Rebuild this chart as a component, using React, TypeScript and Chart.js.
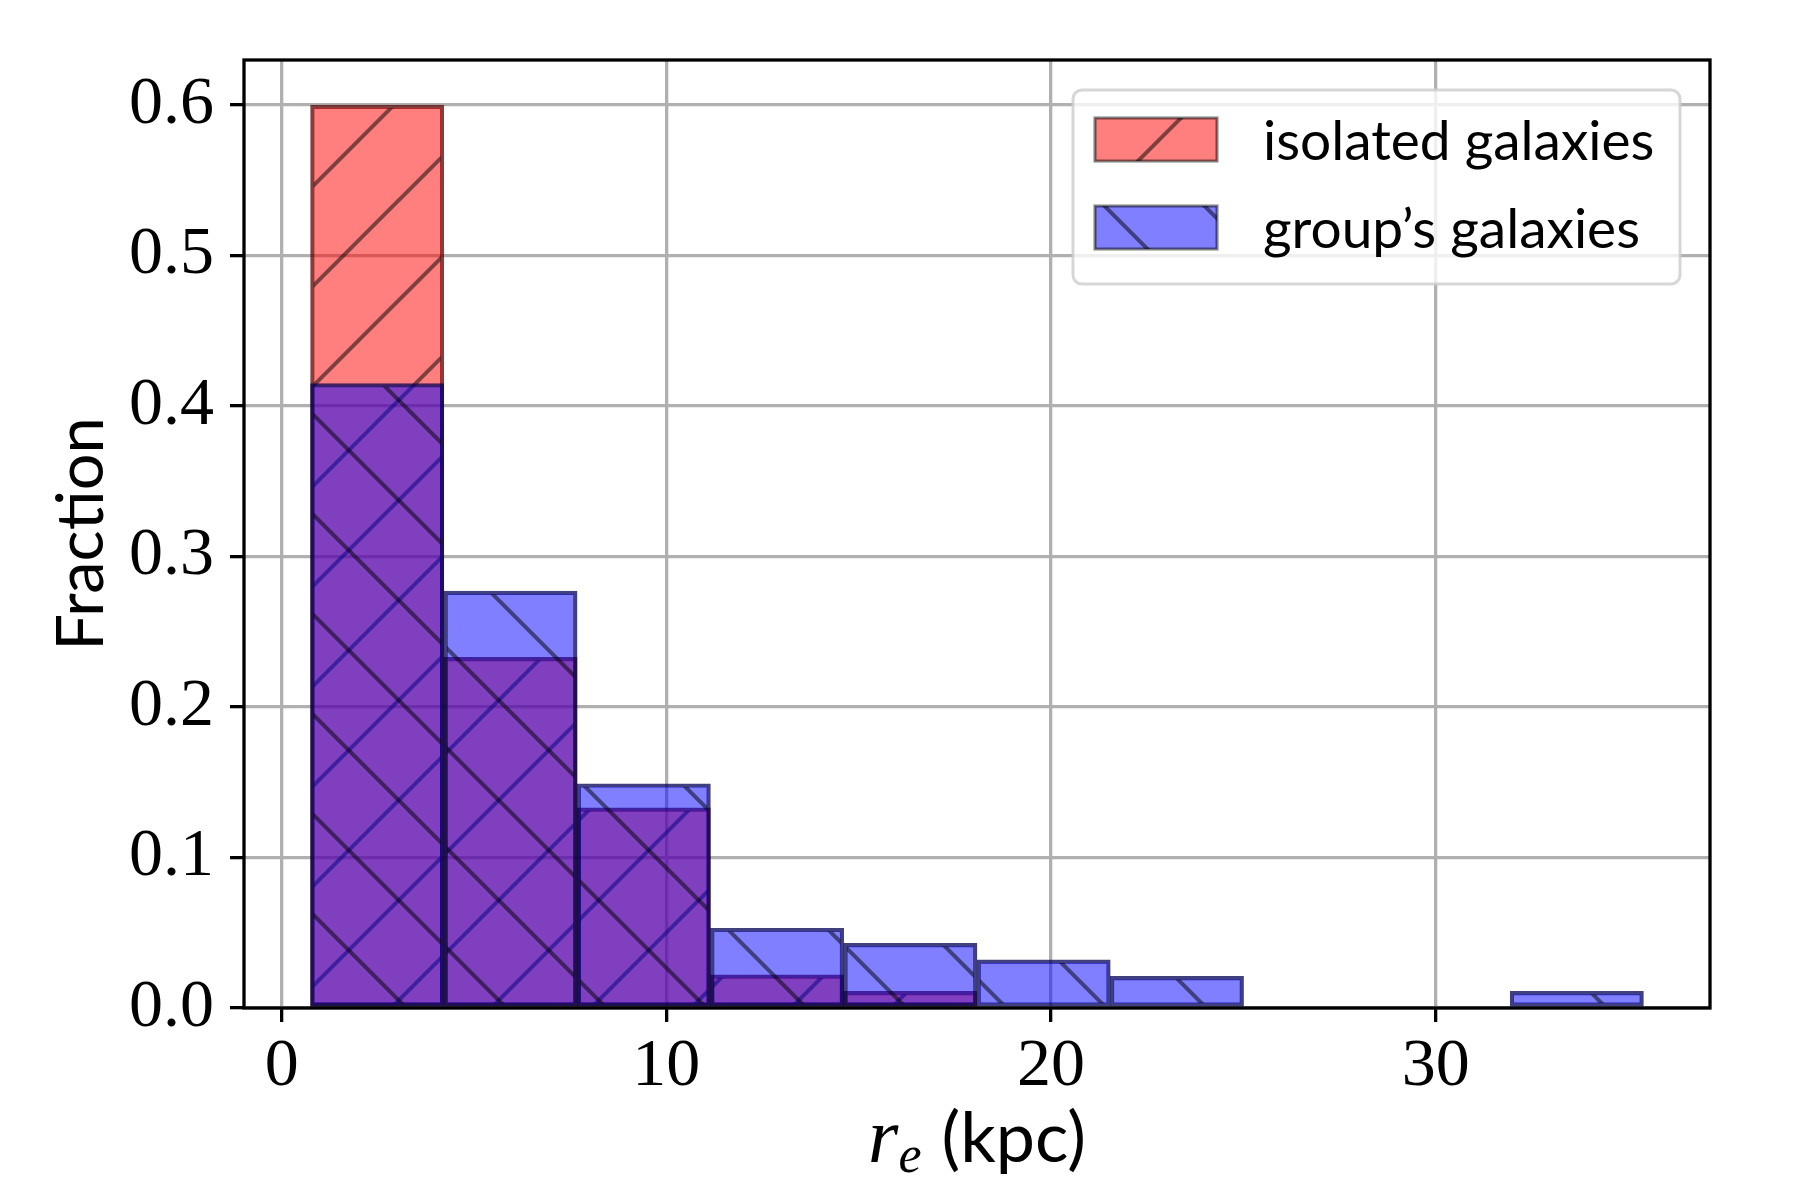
import { useEffect, useRef } from "react";
import { Chart, registerables } from "chart.js";

Chart.register(...registerables);

// histogram bins (kpc) and normalised counts
const binEdges = [0.75, 4.215, 7.68, 11.145, 14.61, 18.075, 21.54, 25.005, 28.47, 31.935, 35.4];
const isolatedFraction = [0.6, 0.233, 0.133, 0.022, 0.011, 0, 0, 0, 0, 0];
const groupFraction = [0.415, 0.277, 0.149, 0.053, 0.043, 0.032, 0.021, 0, 0, 0.011];
const seriesLabels = ["isolated galaxies", "group\u2019s galaxies"];
const xTicks = [0, 10, 20, 30];
const yTicks = [0, 0.1, 0.2, 0.3, 0.4, 0.5, 0.6];

const serif = "'Liberation Serif', 'DejaVu Serif', serif";
const sans = "Lato, 'Open Sans', sans-serif";

function makeHatch(fill: string, dir: "/" | "\\"): CanvasPattern | string {
  const tile = document.createElement("canvas");
  tile.width = 100;
  tile.height = 100;
  const c = tile.getContext("2d");
  if (!c) return fill;
  c.fillStyle = fill;
  c.fillRect(0, 0, 100, 100);
  c.strokeStyle = "rgba(0,0,0,0.5)";
  c.lineWidth = 4;
  c.beginPath();
  if (dir === "/") {
    for (const k of [-1, 99, 199]) {
      c.moveTo(k + 6, -6);
      c.lineTo(k - 106, 106);
    }
  } else {
    for (const k of [-98.5, 1.5, 101.5]) {
      c.moveTo(-6, k - 6);
      c.lineTo(106, k + 106);
    }
  }
  c.stroke();
  const ctx = document.createElement("canvas").getContext("2d");
  return ctx?.createPattern(tile, "repeat") ?? fill;
}

export default function App() {
  const chartRef = useRef<HTMLCanvasElement>(null);
  const chartInstance = useRef<Chart | null>(null);

  useEffect(() => {
    document.body.style.margin = "0";
    if (!chartRef.current) return;
    const ctx = chartRef.current.getContext("2d");
    if (!ctx) return;

    const redHatch = makeHatch("rgba(255,0,0,0.5)", "/");
    const blueHatch = makeHatch("rgba(0,0,255,0.5)", "\\");
    const centers = binEdges.slice(0, -1).map((e, i) => (e + binEdges[i + 1]) / 2);

    const framePlugin = {
      id: "frame",
      afterDraw(chart: Chart) {
        const c = chart.ctx;
        const a = chart.chartArea;
        c.save();

        // spines
        c.strokeStyle = "#000";
        c.lineWidth = 3.3;
        c.strokeRect(a.left, a.top, a.right - a.left, a.bottom - a.top);

        // y title
        c.fillStyle = "#000";
        c.save();
        c.translate(103, (a.top + a.bottom) / 2);
        c.rotate(-Math.PI / 2);
        c.font = `65px ${sans}`;
        c.textAlign = "center";
        c.textBaseline = "alphabetic";
        c.fillText("Fraction", 0, 0);
        c.restore();

        // x title: r_e (kpc)
        c.textBaseline = "alphabetic";
        c.textAlign = "left";
        const rFont = `italic 78px ${serif}`;
        const eFont = `italic 52px ${serif}`;
        const kFont = `70px ${sans}`;
        c.font = rFont;
        const wr = c.measureText("r").width;
        c.font = eFont;
        const we = c.measureText("e").width;
        c.font = kFont;
        const wk = c.measureText("(kpc)").width;
        const gap = 20;
        const total = wr + we + gap + wk;
        let x = (a.left + a.right) / 2 - total / 2;
        const base = 1162;
        c.font = rFont;
        c.fillText("r", x, base);
        x += wr;
        c.font = eFont;
        c.fillText("e", x, base + 10);
        x += we + gap;
        c.font = kFont;
        c.fillText("(kpc)", x, base);

        // legend
        const lw = 607;
        const lh = 194;
        const lx = a.right - 30 - lw;
        const ly = a.top + 30;
        c.beginPath();
        c.roundRect(lx, ly, lw, lh, 9);
        c.fillStyle = "rgba(255,255,255,0.8)";
        c.fill();
        c.strokeStyle = "rgba(204,204,204,0.8)";
        c.lineWidth = 3;
        c.stroke();

        const hatches = [redHatch, blueHatch];
        seriesLabels.forEach((label, i) => {
          const py = ly + 28 + i * 88;
          c.fillStyle = hatches[i];
          c.fillRect(lx + 22, py, 122, 43);
          c.strokeStyle = "rgba(0,0,0,0.5)";
          c.lineWidth = 3;
          c.strokeRect(lx + 22, py, 122, 43);
          c.fillStyle = "#000";
          c.font = `55px ${sans}`;
          c.textAlign = "left";
          c.textBaseline = "alphabetic";
          c.fillText(label, lx + 190, py + 42);
        });

        c.restore();
      },
    };

    if (chartInstance.current) {
      chartInstance.current.destroy();
    }

    chartInstance.current = new Chart(ctx, {
      type: "bar",
      data: {
        datasets: [
          {
            label: seriesLabels[0],
            data: centers.map((x, i) => ({ x, y: isolatedFraction[i] })),
            backgroundColor: redHatch,
            borderColor: "rgba(85,0,0,0.75)",
            borderWidth: 3.5,
            borderSkipped: false,
            grouped: false,
            barPercentage: 1,
            categoryPercentage: 1,
            order: 2,
          },
          {
            label: seriesLabels[1],
            data: centers.map((x, i) => ({ x, y: groupFraction[i] })),
            backgroundColor: blueHatch,
            borderColor: "rgba(0,0,85,0.75)",
            borderWidth: 3.5,
            borderSkipped: false,
            grouped: false,
            barPercentage: 1,
            categoryPercentage: 1,
            order: 1,
          },
        ],
      },
      options: {
        responsive: false,
        animation: false,
        devicePixelRatio: 1,
        layout: { padding: { top: 60, right: 90, left: 0, bottom: 0 } },
        plugins: {
          legend: { display: false },
          tooltip: { enabled: false },
        },
        scales: {
          x: {
            type: "linear",
            min: -0.98,
            max: 37.13,
            offset: false,
            z: 1,
            grid: {
              offset: false,
              color: "#b0b0b0",
              lineWidth: 3.3,
              tickColor: "#000",
              tickWidth: 3.3,
              tickLength: 14,
            },
            border: { display: false },
            ticks: {
              color: "#000",
              font: { family: serif, size: 68 },
              padding: 4,
              maxRotation: 0,
              callback: (v) => String(v),
            },
            afterBuildTicks: (s) => {
              s.ticks = xTicks.map((value) => ({ value }));
            },
            afterFit: (s) => {
              s.height = 192;
            },
          },
          y: {
            type: "linear",
            min: 0,
            max: 0.63,
            z: 1,
            grid: {
              color: "#b0b0b0",
              lineWidth: 3.3,
              tickColor: "#000",
              tickWidth: 3.3,
              tickLength: 14,
            },
            border: { display: false },
            ticks: {
              color: "#000",
              font: { family: serif, size: 68 },
              padding: 16,
              callback: (v) => Number(v).toFixed(1),
            },
            afterBuildTicks: (s) => {
              s.ticks = yTicks.map((value) => ({ value }));
            },
            afterFit: (s) => {
              s.width = 244;
            },
          },
        },
      },
      plugins: [framePlugin],
    });

    return () => {
      if (chartInstance.current) {
        chartInstance.current.destroy();
        chartInstance.current = null;
      }
    };
  }, []);

  return (
    <div style={{ width: 1800, height: 1200, background: "#fff" }}>
      <canvas ref={chartRef} width={1800} height={1200} style={{ display: "block" }} />
    </div>
  );
}
